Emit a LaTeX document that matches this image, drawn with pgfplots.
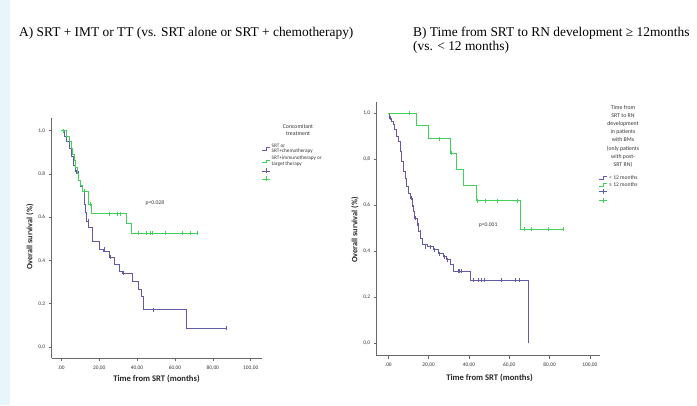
\documentclass[border=0pt]{standalone}
\usepackage{pgfplots}
\pgfplotsset{compat=1.18}
\usepackage{fontspec}
\setmainfont{Liberation Serif}
\newfontfamily\cf{Carlito}
\definecolor{kmpurple}{RGB}{96,92,166}
\definecolor{kmgreen}{RGB}{66,210,92}
\definecolor{band}{RGB}{232,246,252}
\definecolor{axgray}{RGB}{105,105,105}
\pgfplotsset{
  kmaxis/.style={
    scale only axis, anchor=south west,
    axis lines=left,
    axis line style={-, axgray, line width=0.6pt},
    tick style={axgray, line width=0.5pt},
    tick align=outside,
    major tick length=3pt,
    xtick={0,20,40,60,80,100},
    ytick={0,0.2,0.4,0.6,0.8,1.0},
    ticklabel style={font=\cf\fontsize{5.4}{6}\selectfont, text=black!80},
    xticklabel style={yshift=-1pt},
    clip=false,
  },
  kmline/.style={const plot, line width=1pt, no marks},
  kmcens/.style={only marks, mark=|, mark size=2pt, mark options={line width=0.8pt}},
}
\begin{document}
\begin{tikzpicture}[x=1pt,y=1pt]
\useasboundingbox (0,0) rectangle (697,405);
\fill[band] (0,0) rectangle (10,405);
% titles
\node[anchor=base west, inner sep=0pt, font=\fontsize{13.4}{15}\selectfont] at (19,368) {A) SRT + IMT or TT (vs. SRT alone or SRT + chemotherapy)};
\node[anchor=base west, inner sep=0pt, font=\fontsize{13.4}{15}\selectfont] at (413,368) {B) Time from SRT to RN development ≥ 12months};
\node[anchor=base west, inner sep=0pt, font=\fontsize{13.4}{15}\selectfont] at (413,354) {(vs. < 12 months)};

% ---------- Panel A ----------
\begin{axis}[kmaxis, at={(51.7pt,47pt)}, width=210pt, height=240pt,
  xmin=-5.07, xmax=105.8, ymin=-0.052, ymax=1.059,
  xticklabels={.00,{20,00},{40,00},{60,00},{80,00},{100,00}},
  yticklabels={0.0,0.2,0.4,0.6,0.8,1.0}]
\addplot[kmline, kmpurple] coordinates {
(0,1.0)(1.5,0.975)(3,0.95)(4.5,0.92)(5.5,0.88)(6.5,0.84)(7.5,0.81)(9,0.77)(10,0.74)(11,0.72)(12,0.66)(12.8,0.62)(13.5,0.58)(14.5,0.55)(16.5,0.486)(20.1,0.452)(22.5,0.443)(25.3,0.414)(28.2,0.379)(30.9,0.348)(32.4,0.34)(37.5,0.30)(40.7,0.263)(42.4,0.235)(43.6,0.171)(66.1,0.085)(87.2,0.085)};
\addplot[kmcens, kmpurple] coordinates {
(8.1,0.81)(14.2,0.58)(22.7,0.452)(25.7,0.414)(33,0.34)(48.5,0.171)(87.2,0.085)};
\addplot[kmline, kmgreen] coordinates {
(0,1.0)(3,0.975)(4.5,0.95)(5.2,0.92)(6,0.89)(6.8,0.86)(7.5,0.83)(8.3,0.80)(9,0.77)(10,0.745)(11,0.72)(14.6,0.66)(15.7,0.615)(34.2,0.572)(37.2,0.525)(71.8,0.525)};
\addplot[kmcens, kmgreen] coordinates {
(1,1.0)(12.2,0.72)(15.1,0.66)(25.3,0.615)(29.5,0.615)(31.4,0.615)(40.7,0.525)(45.1,0.525)(46.9,0.525)(48.3,0.525)(54.8,0.525)(64.1,0.525)(68,0.525)(71.8,0.525)};
\node[font=\cf\fontsize{5.6}{6}\selectfont, text=black!80] at (axis cs:49.4,0.665) {p=0.028};
\end{axis}
\node[font=\cf\bfseries\fontsize{8.6}{10}\selectfont, text=black!85] at (156.5,26) {Time from SRT (months)};
\node[rotate=90, font=\cf\bfseries\fontsize{8.2}{10}\selectfont, text=black!85] at (30,168) {Overall survival (\%)};
% legend A
\node[align=center, font=\cf\fontsize{5.8}{7.3}\selectfont, text=black!80] at (298,275) {Concomitant\\treatment};
\draw[kmpurple, line width=0.7pt] (262,255) -- (266,255) -- (266,257.5) -- (270,257.5);
\node[anchor=west, align=left, inner sep=0pt, font=\cf\fontsize{5.2}{5.8}\selectfont, text=black!80] at (271.5,256.2) {SRT or\\SRT+chemotherapy};
\draw[kmgreen, line width=0.7pt] (262,242.5) -- (266,242.5) -- (266,245) -- (270,245);
\node[anchor=west, align=left, inner sep=0pt, font=\cf\fontsize{5.2}{5.8}\selectfont, text=black!80] at (271.5,244.2) {SRT+immunotherapy or\\target therapy};
\draw[kmpurple, line width=0.7pt] (262,234) -- (270,234) (266,231.5) -- (266,236.5);
\draw[kmgreen, line width=0.7pt] (262,226) -- (270,226) (266,223.5) -- (266,228.5);

% ---------- Panel B ----------
\begin{axis}[kmaxis, at={(376.7pt,49.3pt)}, width=223.3pt, height=254pt,
  xmin=-5.76, xmax=105, ymin=-0.054, ymax=1.05,
  xticklabels={.00,{20,00},{40,00},{60,00},{80,00},{100,00}},
  yticklabels={{0,0},{0,2},{0,4},{0,6},{0,8},{1,0}}]
\addplot[kmline, kmpurple] coordinates {
(0,1.0)(0.8,0.978)(1.7,0.964)(2.5,0.949)(3.3,0.928)(4.1,0.899)(5.0,0.877)(5.8,0.833)(6.6,0.79)(7.4,0.746)(8.3,0.717)(9.1,0.681)(9.9,0.652)(11.0,0.63)(11.8,0.601)(12.3,0.572)(13.1,0.543)(14.3,0.514)(15.1,0.485)(15.9,0.456)(16.9,0.43)(19.5,0.42)(22.4,0.406)(24.8,0.39)(27.3,0.377)(29,0.362)(30.6,0.342)(32.3,0.312)(40.6,0.275)(69.3,0.0)};
\addplot[kmcens, kmpurple] coordinates {
(0.8,0.978)(11.5,0.63)(12,0.60)(13.5,0.543)(14.8,0.514)(15.7,0.485)(18.2,0.42)(20.7,0.42)(23,0.406)(25.5,0.39)(27.8,0.377)(29.5,0.362)(34.7,0.312)(35.5,0.312)(36.3,0.312)(42.1,0.275)(44.6,0.275)(46.2,0.275)(47.9,0.275)(55.9,0.275)(63.2,0.275)(64.8,0.275)};
\addplot[kmline, kmgreen] coordinates {
(0,1.0)(14.1,0.945)(19.9,0.889)(30.9,0.826)(33.9,0.757)(37.3,0.687)(43.6,0.62)(65.4,0.496)(86.9,0.496)};
\addplot[kmcens, kmgreen] coordinates {
(10.4,1.0)(25.3,0.889)(31.1,0.826)(44.4,0.62)(48.4,0.62)(54.3,0.62)(64.2,0.62)(67.5,0.496)(71.2,0.496)(79.3,0.496)(86.9,0.496)};
\node[font=\cf\fontsize{5.6}{6}\selectfont, text=black!80] at (axis cs:49.5,0.514) {p=0.001};
\end{axis}
\node[font=\cf\bfseries\fontsize{8.6}{10}\selectfont, text=black!85] at (489.5,27) {Time from SRT (months)};
\node[rotate=90, font=\cf\bfseries\fontsize{8.2}{10}\selectfont, text=black!85] at (355,175) {Overall survival (\%)};
% legend B
\node[align=center, font=\cf\fontsize{5.8}{8.2}\selectfont, text=black!80] at (623,268.8) {Time from\\SRT to RN\\development\\in patients\\with BMs\\(only patients\\with post-\\SRT RN)};
\draw[kmpurple, line width=0.7pt] (599,226) -- (603,226) -- (603,228.5) -- (607,228.5);
\node[anchor=west, inner sep=0pt, font=\cf\fontsize{5.6}{6}\selectfont, text=black!80] at (609,227.3) {< 12 months};
\draw[kmgreen, line width=0.7pt] (599,218.7) -- (603,218.7) -- (603,221.2) -- (607,221.2);
\node[anchor=west, inner sep=0pt, font=\cf\fontsize{5.6}{6}\selectfont, text=black!80] at (609,220) {≥ 12 months};
\draw[kmpurple, line width=0.7pt] (599,213.3) -- (607,213.3) (603,210.8) -- (603,215.8);
\draw[kmgreen, line width=0.7pt] (599,204.3) -- (607,204.3) (603,201.8) -- (603,206.8);
\end{tikzpicture}
\end{document}
